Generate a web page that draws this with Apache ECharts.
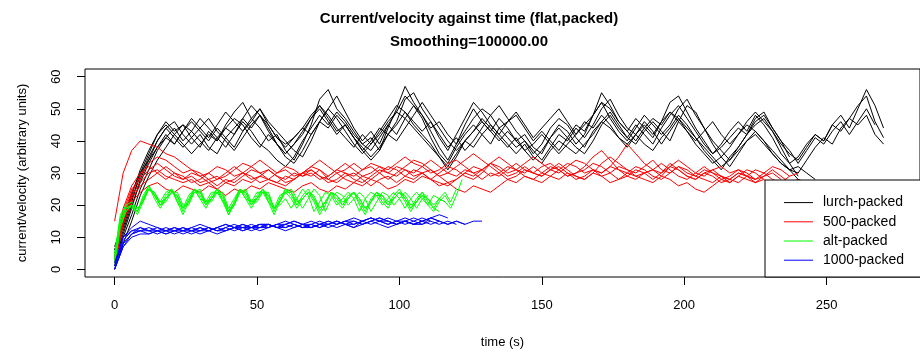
<!DOCTYPE html>
<html><head><meta charset="utf-8">
<script src="https://cdn.jsdelivr.net/npm/echarts@6/dist/echarts.min.js"></script>
<style>html,body{margin:0;padding:0;background:#fff}#c{width:920px;height:354px}</style>
</head><body><div id="c"></div>
<script>
// ---- time grids (s) ----
const t3 = [0,3,6,9,12,15,18,21,24,27,30,33,36,39,42,45,48,51,54,57,60,63,66,69,72,75,78,81,84,87,90,93,96,99,102,105,108,111,114,117,120,123,126,129,132,135,138,141,144,147,150,153,156,159,162,165,168,171,174,177,180,183,186,189,192,195,198,201,204,207,210,213,216,219,222,225,228,231,234,237,240,243,246,249,252,255,258,261,264,267,270];
const t2 = [0,2,4,6,8,10,12,14,16,18,20,22,24,26,28,30,32,34,36,38,40,42,44,46,48,50,52,54,56,58,60,62,64,66,68,70,72,74,76,78,80,82,84,86,88,90,92,94,96,98,100,102,104,106,108,110,112,114,116,118,120,122,124];

const seriesNames = ['lurch-packed','500-packed','alt-packed','1000-packed'];
const xTicks = [0,50,100,150,200,250];
const yTicks = [0,10,20,30,40,50,60];

// ---- lurch-packed (black), sampled every 3 s ----
const lurch1 = [5,14,23,31,37,42,46,43,45,41, 38,43,40,45,49,52,47,44,40,42, 37,34,39,45,53,56,50,47,43,39, 41,37,44,50,57,52,48,43,38,34, 39,45,50,46,43,47,44,40,42,38, 36,41,45,43,39,42,48,55,51,46, 43,47,44,41,46,52,54,49,44,40, 36,39,43,46,43,48,45,41,36,33, 35,39,42,40,45,48,44,50,56,51, 44];
const lurch2 = [3,11,19,28,34,40,44,46,42,39, 42,38,36,41,44,47,44,48,45,41, 39,41,44,48,51,47,43,45,41,38, 35,38,42,46,53,55,50,46,41,37, 42,47,52,49,45,42,46,48,44,40, 43,40,37,41,45,43,48,52,47,43, 40,44,48,45,42,45,50,53,48,44, 40,37,34,38,42,47,49,44,40,37, 33,37,41,39,43,46,42,46,50,45];
const lurch3 = [7,15,24,30,34,38,41,39,43,46, 43,40,44,41,38,43,46,50,46,43, 40,37,35,40,46,50,54,49,44,40, 43,39,45,49,54,51,47,41,36,33, 38,42,45,42,39,44,41,38,40,36, 39,44,47,45,41,38,43,46,49,45, 41,39,43,46,43,40,46,51,49,44, 39,35,32,36,40,43,40,37,34,31, 30,34,38,41,39,44,47,45,48,42, 39];
const lurch4 = [4,10,17,25,31,37,41,44,40,43, 47,44,41,38,42,47,51,48,43,39, 35,33,37,42,46,44,48,45,41,37, 34,37,42,45,49,46,43,46,42,38, 41,37,40,44,48,51,47,43,40,37, 34,38,42,40,44,41,45,50,53,48, 44,42,46,43,39,43,47,44,41,37, 34,31,35,38,42,45,47,43,38,33, 29];
const lurch5 = [6,14,22,29,35,40,44,41,38,41, 44,47,43,40,37,41,45,48,44,39, 36,39,42,47,51,48,44,41,38,42, 39,43,47,51,49,45,42,39,35,31, 35,40,43,47,44,41,38,41,37,34, 37,41,44,41,38,36,40,45,48,44, 41,45,42,39,44,48,51,47,43,39, 36,38,41,44,42,46,48,44,40,35];
const lurch6 = [2,8,15,23,29,34,38,42,45,43, 40,37,41,44,42,46,43,39,37,34, 32,35,40,44,48,45,49,46,42,39, 37,41,45,42,47,44,41,38,35,32, 36,40,38,42,45,42,39,36,39,35, 33,37,40,38,36,39,42,46,44,41, 39,42,39,37,41,44,48,45,41,38, 35,32,34,37,40,42,39,36,33,31, 28,27];
const lurch7 = [4,12,20,27,33,38,42,39,43,47, 44,41,45,49,46,43,47,50,45,41, 38,41,44,42,46,50,47,43,39,36, 39,42,46,49,47,51,48,44,46,42, 39,43,47,50,48,44,46,49,45,41, 44,47,50,46,42,45,48,52,50,46, 43,40,44,47,45,49,47,43,40,43, 46,42,39,42,46,49,46,43,39,36, 34,38,42,40,45,43,47,51,54,46, 41];
const lurch8 = [6,13,21,30,36,42,45,42,39,36, 39,42,40,44,47,45,41,38,42,39, 36,39,43,47,50,46,42,45,41,37, 40,44,42,40,44,48,52,48,44,40, 37,40,43,46,43,40,43,40,37,39, 42,39,36,39,42,46,44,48,45,41, 38,42,45,42,46,49,46,43,39,36, 33,35,38,42,45,43,40,36,33,31, 32,30,28];

// ---- 500-packed (red), sampled every 3 s ----
const p500A = [15,30,37,40,39,38,36,35,33,31,30,28,29,27,28,30,29,27,28,30,32,31,29,30,28,29,31,30,28,27,29,31,30,32,31,29,30,28,27,26,28,30,29,31,33,32,30,31,29,28,30,32,31,29,30,32,35,37,34,31,30,32,31,29,28,30,32,31,29,28,27,29,28,30,29,27,28,26];
const p500B = [2,16,23,27,30,31,29,28,27,28,26,27,25,27,26,28,27,29,28,27,26,28,30,29,31,28,27,29,30,28,26,28,29,27,29,31,30,28,30,32,31,29,28,30,33,31,29,30,32,30,29,31,33,31,29,28,30,33,35,33,31,30,32,34,31,30,32,30,29,31,30,28,29,31,30,28,29,31,29,27,28];
const p500C = [3,18,25,28,31,33,31,29,28,30,29,27,28,30,32,30,28,29,31,29,27,28,30,32,31,29,31,33,31,29,30,32,31,33,35,33,32,30,31,33,34,32,30,31,33,35,33,31,30,32,30,29,31,33,32,30,31,29,30,32,31,29,30,31,33,31,29,28,30,32,30,29,27,29,31,30,28];
const p500D = [1,14,21,24,26,27,25,24,26,25,24,26,25,23,25,24,26,25,27,26,25,24,26,27,25,24,26,25,27,26,28,27,25,26,28,27,29,28,26,27,25,24,26,25,24,26,28,27,29,28,27,29,28,30,29,28,30,29,27,28,30,29,28,27,29,28,26,27,25,24,26,28,27,29,28,27,29,30,28];
const p500E = [4,19,26,30,32,30,28,30,29,27,28,30,32,31,29,30,32,34,32,30,31,29,30,32,34,32,30,31,33,31,32,30,28,30,32,34,33,31,29,30,32,34,36,34,32,30,32,31,33,35,33,31,30,32,34,33,31,30,32,35,39,36,33,31,30,32,34,32,30,29,31,32,30,31,29,28,30,32,31,29];
const p500F = [2,15,22,26,28,30,32,30,28,29,27,28,26,28,27,29,31,30,28,27,29,28,30,31,29,27,28,30,29,31,33,32,30,29,31,30,32,34,32,30,29,31,30,28,30,29,31,33,31,30,29,31,32,30,28,29,31,30,32,31,29,28,30,31,29,32,31,29,28,30,31,29,28,27,29,28];
const p500G = [3,17,24,29,33,35,34,32,30,31,29,30,28,29,31,33,32,30,31,29,28,30,29,31,29,28,30,28,27,29,28,30,32,31,29,28,30,31,29,27,28,30,32,31,29,30,28,29,31,30,32,33,31,29,30,31,33,32,30,28,29,31,30,28,30,33,31,29,28,30,29,27,28,30,29,31,30,28,27,29,30];

// ---- alt-packed (green), sampled every 2 s ----
const altA = [3,15,19,20,18,22,26,23,20,23,25,22,18,22,25,23,20,23,25,22,17,21,25,23,20,23,25,22,18,22,25,23,20,23,25,22,18,21,24,22,20,23,24,21,18,22,24,22,20,23,25,22,19,22,24,21,19,18];
const altB = [5,16,20,21,19,21,25,24,21,22,24,23,19,21,24,24,21,22,24,23,18,20,24,24,21,22,24,23,19,21,24,24,21,22,24,22,19,21,24,23,21,22,24,22,19,21,23,23,21,22,24,23,20,21,23,22,20,22,21,19,23,28];
const altC = [2,14,18,20,17,21,26,22,19,22,25,21,17,21,25,22,19,22,25,21,17,20,25,22,19,22,25,21,17,21,24,22,19,22,24,21,17,20,24,21,19,22,24,20,17,21,24,21,19,22,24,21,18,21,23,20,18,21,23,20];
const altD = [4,17,20,19,18,23,26,23,21,24,25,21,19,23,25,22,21,24,24,21,19,22,25,22,21,24,24,21,19,23,24,25,22,19,22,25,23,18,22,24,23,20,22,24,22,18,21,24,23,20,22,24,22,19,22,23];
const altE = [3,15,19,20,18,22,25,23,20,22,24,23,19,21,25,24,20,22,25,23,18,21,25,24,20,22,25,23,19,21,25,24,20,22,24,23,19,21,24,23,20,22,24,22,19,21,24,23,20,22,24,22,19,21,24,22,19,22,24,21,25];
const altF = [1,13,18,20,19,21,25,24,20,21,24,24,20,20,24,25,21,21,24,24,19,20,24,25,21,21,24,24,19,20,22,19,22,25,23,18,21,24,23,20,22,24,22,18,22,24,23,20,22,24,22,19,22,24,22,20,23,22,21];

// ---- 1000-packed (blue), sampled every 3 s ----
const k1000A = [0,8,11,12,11,12,11,12,13,12,12,13,12,13,12,13,14,13,13,14,13,14,13,14,15,14,13,14,15,14,15,16,15,14,15,14,15,16,15,14,15,14,15,15];
const k1000B = [1,10,13,15,14,13,12,13,12,13,14,13,12,13,14,13,13,14,13,14,15,14,13,14,13,14,15,14,13,15,16,15,14,15,16,15,14,16,17,16];
const k1000C = [0,7,10,11,11,12,11,12,12,11,12,13,12,12,13,12,13,13,14,13,13,14,13,13,14,14,15,14,14,15,16,15,14,15,15,14,15,16,15];
const k1000D = [1,9,12,12,13,12,12,11,12,13,12,12,13,14,13,12,13,14,14,13,14,15,14,13,14,15,14,15,16,15,14,15,16,15,14,15,16,15,14,15,14];
const k1000E = [0,8,11,13,12,11,12,12,11,12,13,12,11,12,13,13,12,13,14,13,12,13,14,14,13,14,15,14,13,14,15,14,13,14,15,14,14,15];
const k1000F = [2,10,12,13,12,13,12,13,12,12,13,12,13,14,13,14,13,14,14,13,14,15,14,15,14,13,14,15,14,15,16,15,15,14,15,16,15,14,15,14,15,14];
const k1000G = [0,7,11,12,12,12,13,12,13,12,11,12,13,12,13,14,13,12,13,14,14,13,14,13,14,15,14,15,15,14,15,16,15,14,15,14,15];

const groups = [
  {name: seriesNames[0], color: '#000000', t: t3, lines: [lurch1, lurch2, lurch3, lurch4, lurch5, lurch6, lurch7, lurch8]},
  {name: seriesNames[1], color: '#FF0000', t: t3, lines: [p500A, p500B, p500C, p500D, p500E, p500F, p500G]},
  {name: seriesNames[2], color: '#00FF00', t: t2, lines: [altA, altB, altC, altD, altE, altF]},
  {name: seriesNames[3], color: '#0000FF', t: t3, lines: [k1000A, k1000B, k1000C, k1000D, k1000E, k1000F, k1000G]}
];

const series = [];
groups.forEach(g => {
  g.lines.forEach(v => {
    series.push({
      type: 'line', name: g.name, showSymbol: false, symbol: 'none',
      data: v.map((y, i) => [g.t[i], y]),
      lineStyle: {color: g.color, width: 1}, itemStyle: {color: g.color},
      silent: true, animation: false, z: 2
    });
  });
});

const FONT = 'Liberation Sans, Arial, Helvetica, sans-serif';
const chart = echarts.init(document.getElementById('c'), null, {renderer: 'canvas'});
chart.setOption({
  backgroundColor: '#ffffff',
  animation: false,
  title: {
    text: 'Current/velocity against time (flat,packed)\nSmoothing=100000.00',
    left: 464, top: 2, textAlign: 'center',
    textStyle: {fontFamily: FONT, fontSize: 15, fontWeight: 'bold', color: '#000', lineHeight: 23}
  },
  grid: {left: 85, right: -8, top: 69, bottom: 77, show: true, borderColor: '#000', borderWidth: 1, backgroundColor: 'transparent'},
  legend: {
    data: seriesNames, orient: 'vertical', left: 779, top: 188, z: 10,
    icon: 'rect', itemWidth: 29, itemHeight: 1, itemGap: 0,
    textStyle: {fontFamily: FONT, fontSize: 14, color: '#000', lineHeight: 19.2, padding: [0, 0, 0, 5]},
    selectedMode: false
  },
  graphic: [{type: 'rect', shape: {x: 765, y: 180, width: 170, height: 97}, style: {fill: '#fff', stroke: '#000', lineWidth: 1}, z: 3}],
  xAxis: {
    type: 'value', min: -10.4, max: 282.8,
    name: 'time (s)', nameLocation: 'middle', nameGap: 59,
    nameTextStyle: {fontFamily: FONT, fontSize: 13, color: '#000'},
    axisLine: {show: false, onZero: false},
    axisTick: {show: true, length: 8, customValues: xTicks, lineStyle: {color: '#000'}},
    axisLabel: {customValues: xTicks, margin: 22, fontFamily: FONT, fontSize: 13, color: '#000'},
    splitLine: {show: false}
  },
  yAxis: {
    type: 'value', min: -2.4, max: 62.4,
    name: 'current/velocity (arbitrary units)', nameLocation: 'middle', nameGap: 56, nameRotate: 90,
    nameTextStyle: {fontFamily: FONT, fontSize: 13, color: '#000'},
    axisLine: {show: false, onZero: false},
    axisTick: {show: true, length: 8, customValues: yTicks, lineStyle: {color: '#000'}},
    axisLabel: {customValues: yTicks, margin: 22, rotate: 90, fontFamily: FONT, fontSize: 13, color: '#000'},
    splitLine: {show: false}
  },
  series: series
});
</script>
</body></html>
